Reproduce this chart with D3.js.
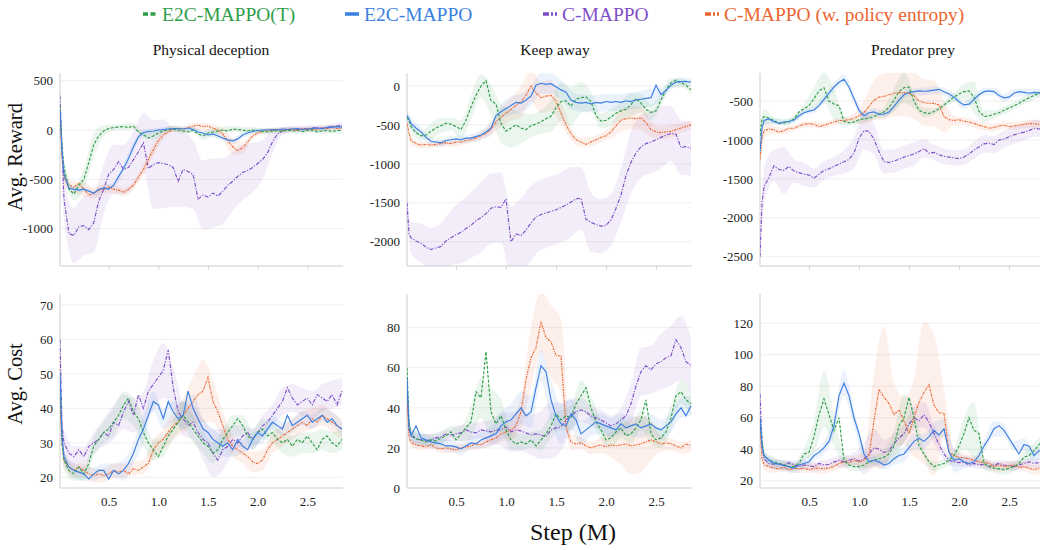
<!DOCTYPE html>
<html lang="en">
<head>
  <meta charset="UTF-8">
  <title>E2C-MAPPO training curves</title>
  <script src="https://d3js.org/d3.v7.min.js"></script>
  <style>
    body { margin: 0; background: #fff; }
    svg { display: block; font-family: "Liberation Serif", "Times New Roman", serif; }
    .tick text { font-size: 13px; fill: #222; font-family: "Liberation Serif", "Times New Roman", serif; }
  </style>
</head>
<body>
  <div id="chart"></div>

  <script>
    const width = 1040;
    const height = 550;

    // training steps (M) shared by every curve
    const steps = [0.01, 0.03, 0.05, 0.10, 0.15, 0.20, 0.25, 0.30, 0.35, 0.40,
      0.45, 0.50, 0.55, 0.60, 0.65, 0.70, 0.75, 0.80, 0.85, 0.90,
      0.95, 1.00, 1.05, 1.10, 1.15, 1.20, 1.25, 1.30, 1.35, 1.40,
      1.45, 1.50, 1.55, 1.60, 1.65, 1.70, 1.75, 1.80, 1.85, 1.90,
      1.95, 2.00, 2.05, 2.10, 2.15, 2.20, 2.25, 2.30, 2.35, 2.40,
      2.45, 2.50, 2.55, 2.60, 2.65, 2.70, 2.75, 2.80, 2.85];

    const xTicks = [0.5, 1.0, 1.5, 2.0, 2.5];
    const titles = ['Physical deception', 'Keep away', 'Predator prey'];
    const legendLabels = ['E2C-MAPPO(T)', 'E2C-MAPPO', 'C-MAPPO', 'C-MAPPO (w. policy entropy)'];

    const pdRewardTicks = [500, 0, -500, -1000];
    const kaRewardTicks = [0, -500, -1000, -1500, -2000];
    const ppRewardTicks = [-500, -1000, -1500, -2000, -2500];
    const pdCostTicks = [20, 30, 40, 50, 60, 70];
    const kaCostTicks = [0, 20, 40, 60, 80];
    const ppCostTicks = [20, 40, 60, 80, 100, 120];

    // ---- Physical deception, reward ----
    const pdRewardT = [250, -150, -380, -600, -650, -560, -500, -330, -150, -60,
      -10, 15, 25, 30, 35, 25, 40, -20, -50, -80,
      -60, -30, -10, 5, 10, 0, -10, -20, 0, -40,
      -60, -30, -20, -10, 0, -10, 10, 5, 0, -10,
      0, -5, -15, -20, -10, -5, -15, 0, -10, -5,
      -15, -5, 0, -20, -10, -5, -15, -5, -5];
    const pdRewardE2C = [200, -200, -450, -590, -600, -610, -600, -620, -640, -600,
      -590, -600, -560, -470, -390, -290, -170, -70, -25, -15,
      -10, 0, 5, 10, 15, 15, 10, 20, 5, -20,
      -30, -50, -40, -60, -80, -100, -110, -90, -50, -30,
      -15, -5, 0, 0, 5, 0, 10, 5, 10, 15,
      5, 10, 15, 20, 15, 25, 30, 35, 30];
    const pdRewardC = [350, -200, -700, -1050, -1070, -980, -970, -1010, -940, -720,
      -600, -450, -400, -320, -400, -380, -300, -220, -130, -390,
      -350, -330, -340, -350, -380, -520, -400, -420, -450, -700,
      -660, -680, -640, -670, -620, -560, -520, -470, -430, -410,
      -380, -340, -300, -230, -120, -40, -10, 0, 10, 5,
      15, 10, 20, 25, 15, 30, 35, 40, 50];
    const pdRewardCE = [150, -250, -480, -560, -580, -540, -600, -660, -640, -610,
      -600, -580, -600, -610, -630, -600, -560, -480, -400, -300,
      -200, -110, -50, -20, 10, 15, 10, 25, 40, 50,
      35, 40, 20, 0, -40, -110, -170, -210, -180, -120,
      -60, -30, -15, 0, -5, 5, 0, 10, 5, 0,
      10, 15, 5, 10, 20, 15, 25, 15, 20];
    // band half-widths, sampled at every second step
    const pdRewardTBand = [30, 80, 60, 100, 120, 60, 30, 30, 30, 30, 40, 30, 30, 30, 30, 40, 40, 30, 30, 30, 30, 30, 30, 25, 25, 25, 25, 25, 25, 25];
    const pdRewardE2CBand = [30, 60, 30, 30, 30, 30, 30, 40, 50, 30, 25, 25, 25, 25, 25, 25, 30, 30, 30, 30, 25, 20, 20, 20, 20, 20, 20, 20, 20, 20];
    const pdRewardCBand = [50, 200, 280, 300, 300, 250, 250, 250, 280, 300, 450, 450, 400, 380, 350, 350, 350, 330, 300, 280, 250, 200, 120, 40, 30, 30, 30, 30, 30, 30];
    const pdRewardCEBand = [30, 80, 60, 70, 60, 50, 40, 40, 40, 60, 60, 40, 30, 30, 30, 40, 40, 60, 80, 60, 30, 25, 25, 25, 25, 25, 25, 25, 25, 25];

    // ---- Keep away, reward ----
    const kaRewardT = [-400, -450, -520, -600, -640, -630, -580, -540, -510, -480,
      -490, -520, -560, -440, -270, -120, 0, 70, -190, -230,
      -480, -580, -540, -500, -540, -560, -510, -490, -460, -420,
      -390, -280, -200, -190, -260, -170, -150, -140, -200, -380,
      -450, -440, -400, -350, -320, -300, -240, -160, -220, -300,
      -340, -320, -180, -50, 40, 75, 40, 10, -50];
    const kaRewardE2C = [-380, -420, -480, -540, -590, -660, -710, -720, -730, -700,
      -690, -680, -690, -670, -670, -650, -630, -590, -540, -380,
      -330, -290, -250, -210, -220, -180, -130, 10, 35, 20,
      30, -10, -50, -80, -180, -210, -220, -210, -230, -210,
      -220, -200, -210, -200, -210, -190, -200, -180, -170, -160,
      -150, 10, -110, -60, 10, 50, 55, 60, 50];
    const kaRewardC = [-1500, -1900, -1950, -1990, -2020, -2070, -2100, -2080, -2060, -1990,
      -1950, -1910, -1880, -1830, -1790, -1730, -1690, -1640, -1570, -1550,
      -1560, -1450, -2000, -1900, -1920, -1850, -1760, -1680, -1650, -1630,
      -1610, -1590, -1560, -1530, -1490, -1450, -1440, -1710, -1750, -1780,
      -1800, -1790, -1720, -1570, -1400, -1150, -980, -860, -780, -740,
      -720, -690, -660, -630, -610, -620, -790, -780, -800];
    const kaRewardCE = [-480, -600, -700, -740, -760, -750, -760, -750, -740, -730,
      -740, -720, -720, -700, -690, -670, -640, -610, -560, -460,
      -400, -350, -300, -250, -200, -120, 0, -90, -150, -130,
      -120, -200, -350, -500, -610, -690, -720, -750, -720, -690,
      -660, -640, -590, -510, -440, -420, -410, -420, -410, -470,
      -560, -590, -600, -590, -580, -560, -540, -520, -500];
    const kaRewardTBand = [40, 60, 60, 100, 100, 80, 120, 150, 150, 200, 250, 250, 200, 150, 150, 200, 250, 250, 200, 120, 100, 100, 120, 150, 120, 100, 80, 60, 60, 60];
    const kaRewardE2CBand = [50, 80, 60, 50, 50, 50, 50, 50, 60, 80, 100, 120, 120, 130, 130, 130, 120, 120, 110, 110, 110, 110, 110, 110, 110, 110, 80, 60, 50, 40];
    const kaRewardCBand = [100, 200, 250, 280, 300, 350, 400, 420, 450, 450, 450, 450, 480, 480, 450, 450, 450, 450, 400, 380, 350, 330, 350, 400, 400, 400, 400, 350, 350, 350];
    const kaRewardCEBand = [40, 50, 40, 40, 40, 40, 40, 40, 50, 80, 120, 150, 200, 200, 200, 200, 150, 80, 60, 60, 60, 80, 150, 150, 150, 100, 80, 80, 60, 60];

    // ---- Predator prey, reward ----
    const ppRewardT = [-950, -720, -700, -720, -750, -790, -780, -770, -730, -640,
      -600, -560, -470, -370, -330, -500, -540, -560, -760, -780,
      -770, -740, -730, -720, -700, -670, -640, -580, -490, -380,
      -330, -320, -500, -620, -650, -660, -635, -600, -550, -500,
      -450, -410, -380, -370, -450, -630, -700, -690, -670, -650,
      -620, -590, -560, -530, -490, -460, -430, -400, -390];
    const ppRewardE2C = [-1150, -850, -750, -730, -765, -785, -770, -760, -745, -690,
      -650, -630, -615, -560, -480, -400, -320, -260, -220, -320,
      -470, -620, -690, -650, -640, -670, -670, -640, -570, -490,
      -420, -390, -380, -370, -375, -370, -360, -350, -380, -410,
      -450, -510, -550, -540, -480, -420, -380, -370, -380, -430,
      -460, -450, -400, -380, -390, -400, -390, -395, -400];
    const ppRewardC = [-2500, -1800, -1600, -1480, -1330, -1380, -1390, -1340, -1400, -1420,
      -1440, -1450, -1490, -1440, -1390, -1370, -1340, -1310, -1280, -1250,
      -1170, -980, -880, -890, -990, -1150, -1280, -1290, -1270, -1250,
      -1220, -1200, -1180, -1150, -1110, -1170, -1160, -1190, -1210, -1220,
      -1230, -1240, -1220, -1180, -1130, -1090, -1050, -1040, -1060, -1000,
      -990, -960, -935, -915, -900, -880, -850, -860, -850];
    const ppRewardCE = [-1250, -980, -880, -860, -870, -900, -880, -850, -850, -820,
      -800, -790, -800, -830, -810, -790, -770, -750, -750, -740,
      -720, -690, -650, -570, -490, -450, -440, -420, -400, -390,
      -395, -400, -430, -500, -520, -530, -530, -550, -700, -740,
      -750, -740, -760, -770, -790, -810, -830, -850, -840, -820,
      -810, -830, -820, -810, -800, -790, -790, -800, -800];
    const ppRewardTBand = [40, 100, 40, 40, 40, 60, 150, 200, 200, 60, 40, 40, 40, 60, 150, 200, 100, 60, 40, 40, 60, 100, 200, 80, 50, 50, 50, 50, 50, 50];
    const ppRewardE2CBand = [50, 50, 40, 40, 40, 40, 40, 50, 60, 60, 60, 60, 50, 50, 50, 50, 50, 50, 50, 50, 50, 50, 50, 50, 50, 50, 50, 50, 50, 50];
    const ppRewardCBand = [50, 250, 200, 300, 150, 150, 120, 120, 120, 150, 200, 250, 200, 150, 150, 150, 150, 120, 100, 100, 100, 100, 110, 110, 110, 110, 110, 110, 110, 110];
    const ppRewardCEBand = [100, 100, 50, 40, 40, 40, 40, 40, 40, 40, 60, 150, 250, 300, 300, 300, 300, 300, 300, 200, 60, 50, 50, 50, 50, 50, 50, 50, 50, 50];

    // ---- Physical deception, cost ----
    const pdCostT = [50, 30, 25, 22, 21, 23, 21, 24, 29, 31,
      33, 34, 36, 38, 41, 43, 39, 37, 33, 30,
      28, 26, 29, 32, 34, 36, 38, 36, 34, 32,
      30, 29, 27, 28, 31, 33, 35, 37, 35, 32,
      31, 33, 34, 32, 33, 31, 30, 31, 29, 31,
      30, 32, 30, 28, 31, 32, 30, 29, 31];
    const pdCostE2C = [50, 32, 26, 23, 22, 21.5, 21, 19.5, 21, 22,
      22, 19.5, 22, 21, 22, 24, 27, 31, 34, 38,
      42, 41, 37, 42, 39, 37, 38, 45, 40, 37,
      34, 33, 31, 30, 29, 30, 28, 31, 29, 28,
      31, 33, 32, 34, 36, 35, 34, 38, 35, 36,
      37, 38, 36, 37, 38, 36, 37, 35, 34];
    const pdCostC = [60, 35, 30, 27, 26, 28, 26, 29, 30, 31,
      33, 32, 36, 35, 39, 42, 38, 44, 40, 45,
      47, 49, 51, 57, 46, 39, 37, 35, 36, 33,
      31, 30, 27, 25, 28, 29, 31, 30, 32, 33,
      31, 33, 35, 36, 38, 40, 42, 46, 43, 41,
      42, 43, 41, 44, 43, 42, 44, 41, 45];
    const pdCostCE = [42, 30, 25, 23, 22, 23, 22, 21, 20.5, 21,
      20.5, 21, 22, 21.5, 22, 21, 22.5, 22, 23, 24,
      28, 30, 31, 33, 35, 36, 38, 40, 42, 44,
      45, 49, 42, 39, 35, 31, 29, 28, 27, 26,
      24.5, 24, 25, 28, 30, 31, 32, 33, 34, 35,
      36, 35, 37, 36, 38, 37, 36, 35, 34];
    const pdCostTBand = [5, 3, 2, 2, 3, 3, 4, 4, 4, 4, 3, 3, 3, 4, 4, 3, 3, 3, 3, 3, 3, 3, 3, 3, 3, 3, 3, 3, 3, 3];
    const pdCostE2CBand = [5, 2, 2, 2, 2, 2, 2, 3, 3, 4, 3, 3, 3, 4, 4, 3, 3, 3, 2, 2, 2, 2, 2, 2, 2, 2, 2, 2, 2, 2];
    const pdCostCBand = [5, 4, 3, 3, 3, 4, 5, 5, 5, 5, 7, 8, 6, 5, 5, 6, 7, 6, 4, 3, 3, 3, 3, 4, 4, 4, 4, 4, 4, 4];
    const pdCostCEBand = [5, 2, 2, 2, 2, 2, 2, 2, 2, 2, 3, 3, 4, 5, 7, 9, 6, 4, 3, 3, 3, 3, 3, 3, 3, 3, 3, 3, 3, 3];

    // ---- Keep away, cost ----
    const kaCostT = [60, 33, 27, 24.5, 24, 23, 24, 23.5, 25, 26,
      28, 24, 27, 30, 33, 48, 45, 68, 38, 32,
      36, 29, 24, 22, 23, 22, 24, 21, 24, 27,
      31, 37, 34, 36, 35, 42, 46, 50, 40, 33,
      29, 24, 25, 28, 30, 26, 27, 30, 34, 44,
      27, 24, 25, 28, 35, 46, 48, 44, 42];
    const kaCostE2C = [55, 30, 26, 31, 25, 24, 23, 22.5, 22, 21,
      21, 20.5, 19.5, 21, 22.5, 22, 24, 25, 26, 27,
      31, 33, 34, 37, 40, 36, 38, 50, 61, 58,
      44, 36, 32, 31, 37, 34, 27, 29, 31, 33,
      32, 31, 30, 29, 32, 30, 31, 32, 30, 31,
      32, 30, 29, 31, 33, 37, 40, 36, 41];
    const kaCostC = [50, 30, 26, 24.5, 24, 23.5, 24, 25, 25.5, 27,
      26.5, 27, 27.5, 29, 28, 27.5, 29, 28.5, 28, 29,
      29, 30.5, 28, 29, 28.5, 27.5, 26.5, 27, 26.5, 25.5,
      29, 30, 30.5, 34, 36, 38, 39, 38, 36, 35,
      34, 32.5, 31, 32, 34, 36, 42, 51, 58, 61,
      59, 62, 63, 65, 66, 74, 70, 63, 61];
    const kaCostCE = [45, 25, 22.5, 21.5, 21, 20.5, 21.5, 20, 19.5, 20,
      19.5, 19, 20, 20.5, 21, 22, 21.5, 23, 24, 25,
      27, 28, 29, 31, 38, 54, 65, 70, 83, 75,
      73, 66, 66, 30, 23, 22, 22.5, 21, 20, 21,
      21.5, 20.5, 21.5, 21, 21.5, 22, 21, 21.5, 22, 23,
      24, 23, 22, 22.5, 22, 21, 20, 22, 21];
    const kaCostTBand = [5, 3, 3, 3, 3, 3, 4, 8, 10, 12, 8, 5, 4, 4, 5, 6, 5, 6, 8, 6, 5, 5, 5, 5, 5, 5, 5, 6, 6, 6];
    const kaCostE2CBand = [5, 3, 3, 3, 3, 3, 3, 3, 4, 5, 7, 8, 8, 8, 8, 10, 10, 8, 6, 5, 5, 5, 5, 5, 5, 5, 5, 5, 5, 5];
    const kaCostCBand = [5, 3, 3, 3, 3, 3, 4, 4, 4, 6, 8, 10, 10, 10, 12, 14, 12, 8, 6, 5, 5, 5, 6, 10, 12, 12, 14, 15, 16, 14];
    const kaCostCEBand = [5, 2, 2, 2, 2, 2, 2, 2, 2, 3, 4, 5, 8, 15, 15, 18, 18, 4, 3, 3, 4, 6, 10, 14, 14, 10, 4, 3, 3, 3];

    // ---- Predator prey, cost ----
    const ppCostT = [60, 45, 36, 33, 32, 31, 30, 29, 29, 31,
      37, 38, 48, 62, 72, 62, 52, 60, 33, 30,
      29, 29, 30, 32, 33, 34, 35, 37, 42, 55,
      60, 73, 60, 42, 37, 32, 29, 30, 31, 33,
      36, 42, 50, 60, 52, 50, 31, 29, 28, 27.5,
      27, 28, 29, 31, 35, 36, 39, 43, 46];
    const ppCostE2C = [60, 42, 36, 33, 31, 30.5, 29.5, 29, 28, 30,
      31, 32, 36, 38, 41, 45, 55, 74, 82, 74,
      60, 50, 37, 32, 33, 32, 30, 31, 34, 36,
      37, 41, 45, 47, 45, 48, 52, 49, 53, 38,
      33, 34, 32, 31, 32, 36, 42, 47, 53, 55,
      52, 47, 42, 37, 43, 42, 36, 39, 40];
    const ppCostC = [75, 45, 34, 31, 30.5, 31, 30, 31.5, 30, 29,
      30, 29.5, 29, 31, 30, 30.5, 32, 33, 32, 33,
      34, 32.5, 34, 37, 41, 40, 38, 39, 44, 47,
      50, 56, 60, 58, 62, 57, 50, 43, 37, 33,
      32, 31.5, 32, 30, 31, 30, 30.5, 29, 30, 31,
      30, 29.5, 29, 30, 31, 32, 31, 31.5, 32];
    const ppCostCE = [55, 34, 30, 29, 28, 27.5, 28.5, 27, 28, 27.5,
      28, 27, 28, 28, 27.5, 28, 29, 31, 32, 31.5,
      33, 32, 33, 36, 58, 78, 73, 69, 62, 65,
      58, 50, 60, 70, 76, 81, 68, 63, 63, 38,
      36, 35, 34.5, 34, 33, 32, 31.5, 31, 29, 30,
      29, 29.5, 30, 28.5, 29, 28, 27, 28, 28];
    const ppCostTBand = [5, 3, 3, 3, 3, 4, 10, 18, 10, 4, 3, 3, 3, 4, 10, 15, 6, 3, 3, 3, 4, 10, 18, 4, 3, 3, 3, 4, 5, 5];
    const ppCostE2CBand = [5, 3, 3, 3, 3, 3, 3, 4, 6, 8, 6, 4, 3, 3, 4, 5, 5, 5, 5, 6, 8, 4, 3, 4, 5, 4, 3, 4, 4, 4];
    const ppCostCBand = [8, 3, 3, 3, 3, 3, 3, 3, 3, 4, 4, 10, 12, 8, 6, 6, 8, 8, 6, 4, 3, 3, 3, 3, 3, 3, 3, 3, 3, 3];
    const ppCostCEBand = [5, 3, 3, 3, 3, 3, 3, 3, 3, 3, 3, 5, 30, 45, 20, 15, 25, 45, 45, 15, 4, 3, 3, 3, 3, 3, 3, 3, 3, 3];

    // ---- layout ----
    const cols = [[60, 343], [407, 692], [760, 1045]];
    const rows = [[75, 266], [296, 488]];
    const xDomain = [0.01, 2.86];
    const serif = '"Liberation Serif", "Times New Roman", serif';

    const styles = {
      t:   { color: '#2f9e4a', dash: '3,1.6' },
      e2c: { color: '#3b7fe0', dash: null },
      c:   { color: '#7e4fc8', dash: '4,1.5,1.2,1.5' },
      ce:  { color: '#ec6530', dash: '2.2,1,1,1' }
    };
    const drawOrder = ['c', 'ce', 't', 'e2c'];
    const legendKeys = ['t', 'e2c', 'c', 'ce'];

    const panels = [
      { col: 0, row: 0, yDomain: [-1379, 558], ticks: pdRewardTicks,
        data: { t: pdRewardT, e2c: pdRewardE2C, c: pdRewardC, ce: pdRewardCE },
        band: { t: pdRewardTBand, e2c: pdRewardE2CBand, c: pdRewardCBand, ce: pdRewardCEBand } },
      { col: 1, row: 0, yDomain: [-2312, 141], ticks: kaRewardTicks,
        data: { t: kaRewardT, e2c: kaRewardE2C, c: kaRewardC, ce: kaRewardCE },
        band: { t: kaRewardTBand, e2c: kaRewardE2CBand, c: kaRewardCBand, ce: kaRewardCEBand } },
      { col: 2, row: 0, yDomain: [-2619, -166], ticks: ppRewardTicks,
        data: { t: ppRewardT, e2c: ppRewardE2C, c: ppRewardC, ce: ppRewardCE },
        band: { t: ppRewardTBand, e2c: ppRewardE2CBand, c: ppRewardCBand, ce: ppRewardCEBand } },
      { col: 0, row: 1, yDomain: [16.9, 72.6], ticks: pdCostTicks,
        data: { t: pdCostT, e2c: pdCostE2C, c: pdCostC, ce: pdCostCE },
        band: { t: pdCostTBand, e2c: pdCostE2CBand, c: pdCostCBand, ce: pdCostCEBand } },
      { col: 1, row: 1, yDomain: [0, 95.8], ticks: kaCostTicks,
        data: { t: kaCostT, e2c: kaCostE2C, c: kaCostC, ce: kaCostCE },
        band: { t: kaCostTBand, e2c: kaCostE2CBand, c: kaCostCBand, ce: kaCostCEBand } },
      { col: 2, row: 1, yDomain: [15.4, 137.3], ticks: ppCostTicks,
        data: { t: ppCostT, e2c: ppCostE2C, c: ppCostC, ce: ppCostCE },
        band: { t: ppCostTBand, e2c: ppCostE2CBand, c: ppCostCBand, ce: ppCostCEBand } }
    ];

    // band samples sit on every second step
    const bandIndex = steps.map((s, i) => i).filter(i => i % 2 === 0);

    const svg = d3.select('#chart')
      .append('svg')
      .attr('width', width)
      .attr('height', height);

    const defs = svg.append('defs');

    panels.forEach((p, pi) => {
      const [x0, x1] = cols[p.col];
      const [y0, y1] = rows[p.row];
      const x = d3.scaleLinear().domain(xDomain).range([x0, x1]);
      const y = d3.scaleLinear().domain(p.yDomain).range([y1, y0]);
      const g = svg.append('g');

      defs.append('clipPath').attr('id', 'clip' + pi)
        .append('rect')
        .attr('x', x0).attr('y', y0 - 2)
        .attr('width', x1 - x0).attr('height', y1 - y0 + 2);

      // horizontal grid
      g.append('g').selectAll('line')
        .data(p.ticks)
        .join('line')
        .attr('x1', x0).attr('x2', x1)
        .attr('y1', d => y(d)).attr('y2', d => y(d))
        .attr('stroke', '#efefef')
        .attr('stroke-width', 1);

      // y axis labels
      const yAxis = g.append('g')
        .attr('transform', `translate(${x0},0)`)
        .call(d3.axisLeft(y).tickValues(p.ticks).tickSize(0).tickPadding(7).tickFormat(d => String(d)))
        .attr('font-family', serif)
        .attr('font-size', 13);
      yAxis.select('.domain').remove();

      // x axis
      const xAxis = g.append('g').attr('transform', `translate(0,${y1})`);
      if (p.row === 0) {
        xAxis.call(d3.axisBottom(x).tickValues(xTicks).tickSize(4).tickFormat(''));
        xAxis.selectAll('.tick line').attr('stroke', '#d4d4d4');
      } else {
        xAxis.call(d3.axisBottom(x).tickValues(xTicks).tickSize(0).tickPadding(9).tickFormat(d3.format('.1f')));
      }
      xAxis.attr('font-family', serif).attr('font-size', 13);
      xAxis.select('.domain').remove();

      // axis lines
      g.append('line')
        .attr('x1', x0).attr('x2', x0).attr('y1', y0 - 2).attr('y2', y1)
        .attr('stroke', '#dedede').attr('stroke-width', 1.5);
      g.append('line')
        .attr('x1', x0).attr('x2', x1).attr('y1', y1).attr('y2', y1)
        .attr('stroke', '#dedede').attr('stroke-width', 1.5);

      const plot = g.append('g').attr('clip-path', `url(#clip${pi})`);

      const area = d3.area()
        .x(d => x(d.s))
        .y0(d => y(d.lo))
        .y1(d => y(d.hi))
        .curve(d3.curveMonotoneX);

      drawOrder.forEach(key => {
        const vals = p.data[key];
        const spread = p.band[key];
        const pts = bandIndex.map((si, k) => ({ s: steps[si], lo: vals[si] - spread[k], hi: vals[si] + spread[k] }));
        plot.append('path')
          .datum(pts)
          .attr('d', area)
          .attr('fill', styles[key].color)
          .attr('fill-opacity', 0.1);
      });

      const line = d3.line()
        .x((d, i) => x(steps[i]))
        .y(d => y(d));

      drawOrder.forEach(key => {
        plot.append('path')
          .datum(p.data[key])
          .attr('d', line)
          .attr('fill', 'none')
          .attr('stroke', styles[key].color)
          .attr('stroke-width', 1.15)
          .attr('stroke-dasharray', styles[key].dash);
      });
    });

    // column titles
    const titleX = [211, 555, 913];
    svg.selectAll('.col-title')
      .data(titles)
      .join('text')
      .attr('class', 'col-title')
      .attr('x', (d, i) => titleX[i])
      .attr('y', 55)
      .attr('text-anchor', 'middle')
      .attr('font-size', 15.5)
      .attr('fill', '#111')
      .text(d => d);

    // axis titles
    svg.append('text')
      .attr('transform', 'translate(22,157) rotate(-90)')
      .attr('text-anchor', 'middle')
      .attr('font-size', 20.5)
      .attr('fill', '#111')
      .text('Avg. Reward');
    svg.append('text')
      .attr('transform', 'translate(22,384) rotate(-90)')
      .attr('text-anchor', 'middle')
      .attr('font-size', 20.5)
      .attr('fill', '#111')
      .text('Avg. Cost');
    svg.append('text')
      .attr('x', 573)
      .attr('y', 540)
      .attr('text-anchor', 'middle')
      .attr('font-size', 24)
      .attr('fill', '#111')
      .text('Step (M)');

    // legend
    const legendX = [143, 345, 543, 705];
    const markerDash = { t: '5,2.5', e2c: null, c: '6,2,2,2,2', ce: '6,2,2,2,2' };
    const legend = svg.append('g');
    legendKeys.forEach((key, i) => {
      legend.append('line')
        .attr('x1', legendX[i]).attr('x2', legendX[i] + 14)
        .attr('y1', 14).attr('y2', 14)
        .attr('stroke', styles[key].color)
        .attr('stroke-width', 3.5)
        .attr('stroke-dasharray', markerDash[key]);
      legend.append('text')
        .attr('x', legendX[i] + 19)
        .attr('y', 21)
        .attr('font-size', 19.5)
        .attr('fill', styles[key].color)
        .text(legendLabels[i]);
    });
  </script>
</body>
</html>
